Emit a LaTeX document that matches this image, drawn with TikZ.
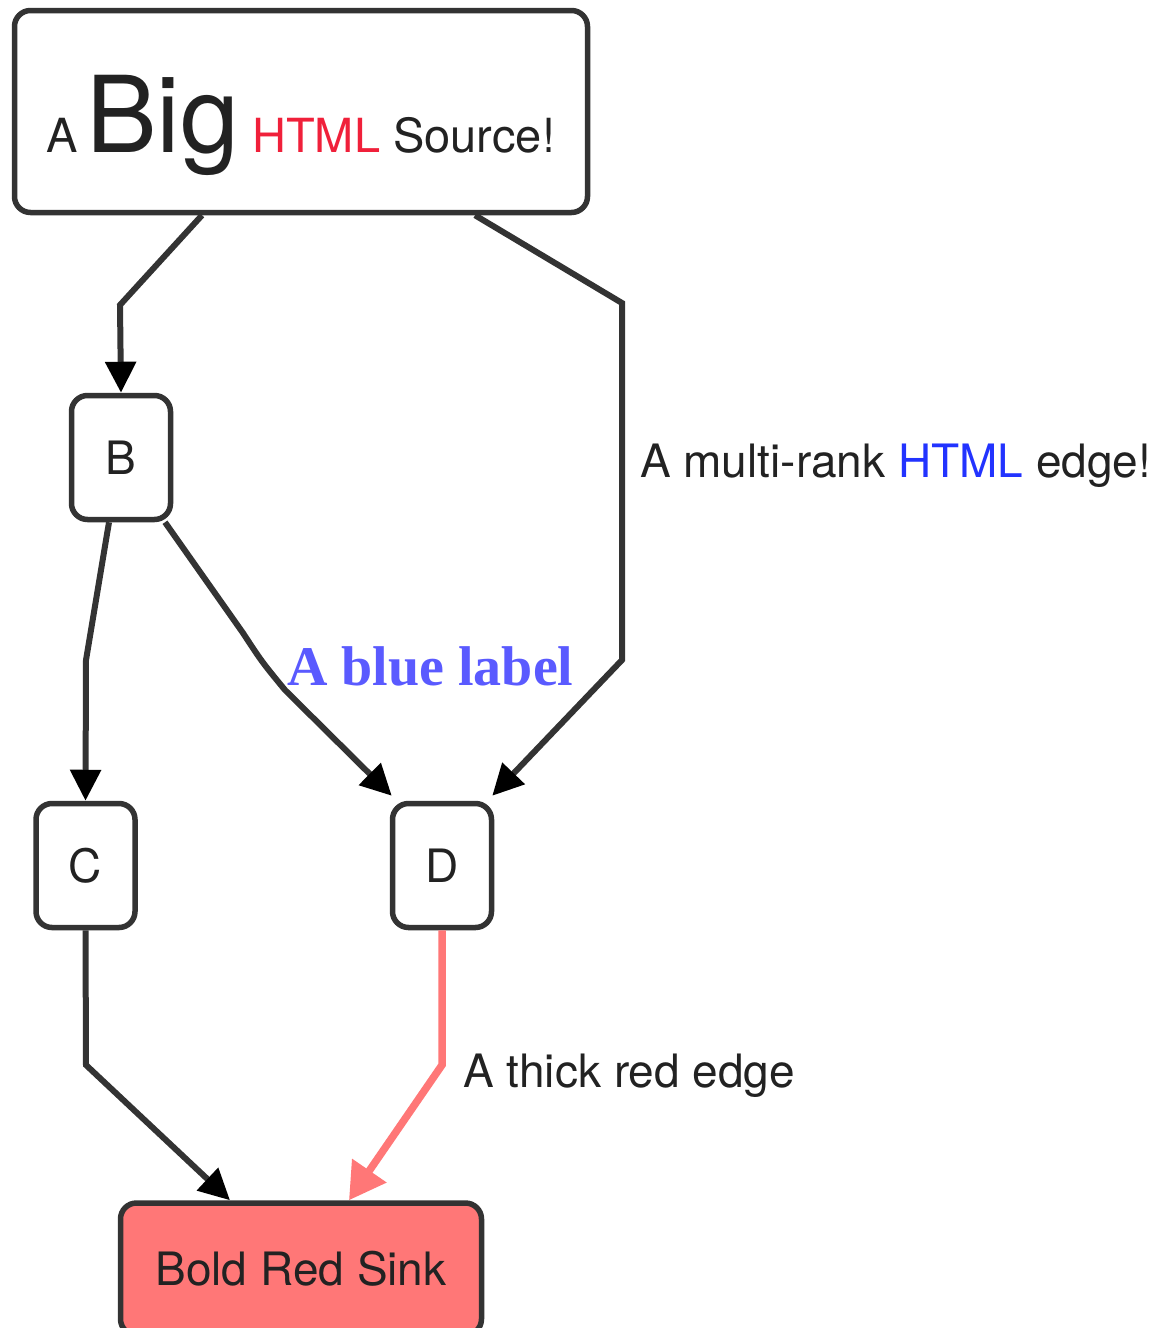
\documentclass[tikz,border=0pt]{standalone}
\usepackage{fontspec}
\setmainfont{TeX Gyre Heros}
\newfontfamily\timesbold{Liberation Serif}
\usetikzlibrary{arrows.meta,calc}
\definecolor{linegray}{HTML}{333333}
\definecolor{txtgray}{HTML}{222222}
\definecolor{htmlred}{HTML}{F0203A}
\definecolor{htmlblue}{HTML}{2233FF}
\definecolor{labelblue}{HTML}{5A5AFF}
\definecolor{sinkred}{HTML}{FF7777}
\tikzset{
  box/.style={draw=linegray,line width=5.5pt,rounded corners=16pt,fill=white,inner sep=0pt},
  small/.style={box,minimum width=99pt,minimum height=124pt,font=\fontsize{46}{46}\selectfont,text=txtgray},
  edge/.style={draw=linegray,line width=6pt,-{Triangle[length=31pt,width=30pt,color=black]}},
  redge/.style={draw=sinkred,line width=7.5pt,-{Triangle[length=36pt,width=40pt,color=sinkred]}},
  lbl/.style={font=\fontsize{46}{46}\selectfont,text=txtgray,inner sep=0pt}
}
\begin{document}
\begin{tikzpicture}[x=1pt,y=-1pt]
\useasboundingbox[fill=white] (0,0) rectangle (1157,1328);
% nodes
\node[box,minimum width=573pt,minimum height=202pt] (src) at (301,111.5) {};
\node[lbl,anchor=base] (srctext) at (301,152) {\fontsize{47}{47}\selectfont A\,{\fontsize{106}{106}\selectfont Big} \textcolor{htmlred}{HTML} Source!};
\node[small] (B) at (121,457.5) {B};
\node[small] (C) at (85.5,865.5) {C};
\node[small] (D) at (442,865.5) {D};
\node[box,fill=sinkred,minimum width=361pt,minimum height=132pt,font=\fontsize{46}{46}\selectfont,text=txtgray] (sink) at (301,1269) {Bold Red Sink};
% edges
\draw[edge] ([xshift=-99pt]src.south) -- (120,305) -- (B.north);
\draw[edge] ([xshift=174pt]src.south) -- (622,303) -- (622,660) -- ([xshift=-2pt,yshift=5pt]D.north east);
\draw[edge] ([xshift=-12pt]B.south) -- (86,660) -- (C.north);
\draw[edge] ([xshift=44pt]B.south) -- (243,633) .. controls (262,662) .. (285,690) -- ([xshift=2pt,yshift=5pt]D.north west);
\draw[edge] (C.south) -- (86,1065) -- ([xshift=-71pt]sink.north);
\draw[redge] (D.south) -- (442,1065) -- ([xshift=48pt]sink.north);
% labels
\node[lbl,anchor=base west] (lmulti) at (640,477) {A multi-rank \textcolor{htmlblue}{HTML} edge!};
\node[anchor=base west,inner sep=0pt,text=labelblue,font=\timesbold\bfseries\fontsize{56}{56}\selectfont] (lblue) at (287,685) {A blue label};
\node[lbl,anchor=base west] (lthick) at (463,1087) {A thick red edge};
\end{tikzpicture}
\end{document}
